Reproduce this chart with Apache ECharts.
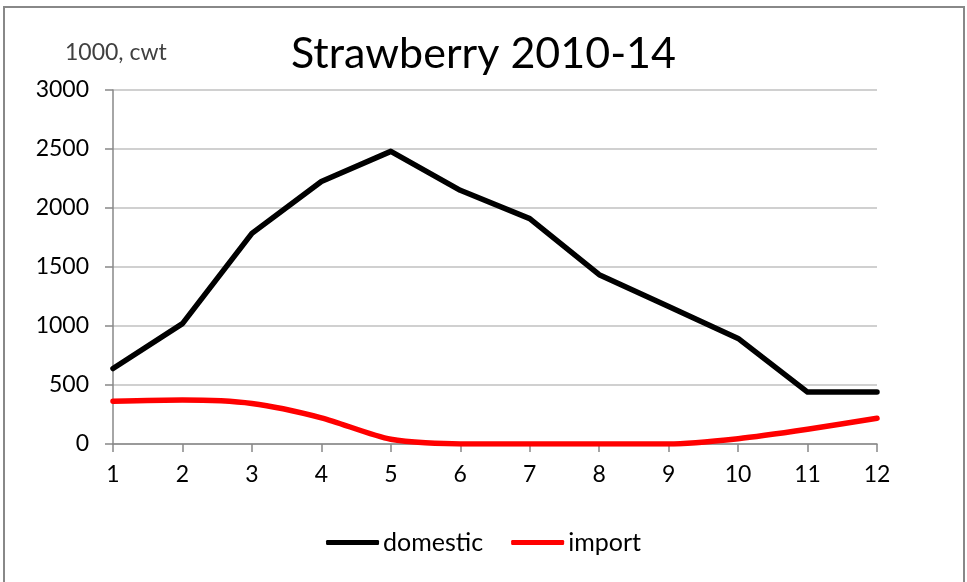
<!DOCTYPE html>
<html>
<head>
<meta charset="utf-8">
<script src="https://cdn.jsdelivr.net/npm/echarts@6/dist/echarts.min.js"></script>
<style>
  html, body { margin: 0; padding: 0; background: #fff; }
  #chart { width: 967px; height: 582px; }
</style>
</head>
<body>
<div id="chart"></div>
<script>
// Monthly strawberry volumes, 1000 cwt (2010-14 average)
const months = ['1', '2', '3', '4', '5', '6', '7', '8', '9', '10', '11', '12'];
const domestic = [640, 1020, 1785, 2225, 2480, 2150, 1910, 1435, 1165, 895, 440, 440];
const importVol = [362, 372, 343, 222, 40, 0, 0, 0, 0, 45, 125, 218];
const yTicks = { min: 0, max: 3000, step: 500 };

const font = 'Lato, "Open Sans", sans-serif';
const chart = echarts.init(document.getElementById('chart'));

chart.setOption({
  animation: false,
  backgroundColor: '#fff',
  textStyle: { fontFamily: font },
  title: {
    text: 'Strawberry 2010-14',
    left: 'center',
    top: 28,
    textStyle: { fontFamily: font, fontSize: 43, fontWeight: 'normal', color: '#000' }
  },
  graphic: [
    {
      type: 'rect',
      shape: { x: 4, y: 7, width: 960, height: 600 },
      style: { fill: 'none', stroke: '#888', lineWidth: 2 },
      silent: true
    },
    {
      type: 'text',
      left: 65,
      top: 41,
      style: { text: '1000, cwt', font: '23px ' + font, fill: '#404040' }
    }
  ],
  legend: {
    bottom: 22,
    left: 'center',
    itemWidth: 53,
    itemHeight: 5,
    itemGap: 28,
    textStyle: { fontSize: 25, color: '#000', fontFamily: font, padding: [0, 0, 0, -1] },
    data: [
      { name: 'domestic', icon: 'roundRect' },
      { name: 'import', icon: 'roundRect' }
    ]
  },
  grid: { left: 113, right: 90, top: 90, bottom: 138, containLabel: false },
  xAxis: {
    type: 'category',
    data: months,
    boundaryGap: false,
    axisLine: { lineStyle: { color: '#888', width: 1.5 } },
    axisTick: { alignWithLabel: true, length: 8, lineStyle: { color: '#888', width: 1.5 } },
    axisLabel: { fontSize: 23, color: '#000', margin: 19, fontFamily: font },
    splitLine: { show: false }
  },
  yAxis: {
    type: 'value',
    min: yTicks.min,
    max: yTicks.max,
    interval: yTicks.step,
    axisLine: { show: true, lineStyle: { color: '#888', width: 1.5 } },
    axisTick: { show: true, length: 8, lineStyle: { color: '#888', width: 1.5 } },
    axisLabel: { fontSize: 23, color: '#000', margin: 24, fontFamily: font, formatter: v => String(v) },
    splitLine: { lineStyle: { color: '#c0c0c0', width: 1.5 } }
  },
  series: [
    {
      name: 'domestic',
      type: 'line',
      data: domestic,
      symbol: 'none',
      lineStyle: { color: '#000', width: 5.5, cap: 'round', join: 'round' },
      itemStyle: { color: '#000' }
    },
    {
      name: 'import',
      type: 'line',
      data: importVol,
      symbol: 'none',
      smooth: 0.25,
      lineStyle: { color: '#ff0000', width: 5.5, cap: 'round', join: 'round' },
      itemStyle: { color: '#ff0000' }
    }
  ]
});
</script>
</body>
</html>
